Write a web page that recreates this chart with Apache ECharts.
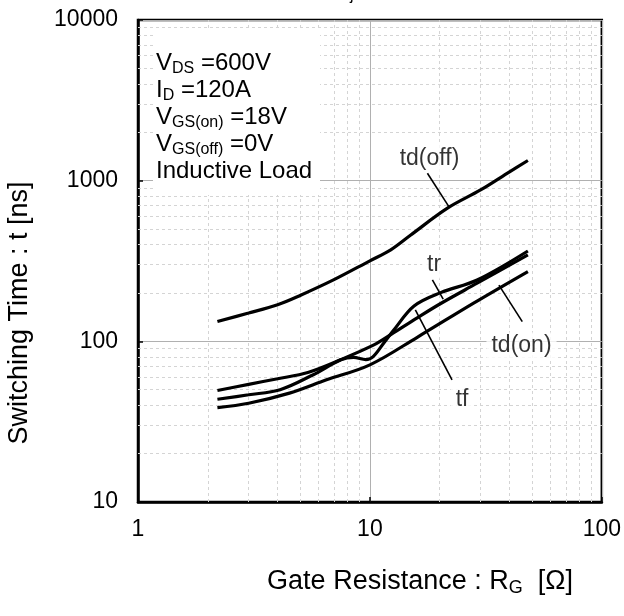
<!DOCTYPE html>
<html>
<head>
<meta charset="utf-8">
<script src="https://cdn.jsdelivr.net/npm/echarts@6/dist/echarts.min.js"></script>
<style>
html,body{margin:0;padding:0;background:#fff;}
#chart{width:624px;height:616px;}
</style>
</head>
<body>
<div id="chart"></div>
<script>
// ---------- data ----------
const xMin = 1, xMax = 100;
const yMin = 10, yMax = 10000;
const minorX = [2,3,4,5,6,7,8,9,20,30,40,50,60,70,80,90];
const minorY = [20,30,40,50,60,70,80,90,200,300,400,500,600,700,800,900,2000,3000,4000,5000,6000,7000,8000,9000];

// Rg [ohm], t [ns]
const tdOff = [[2.2,133],[3,150],[4,169],[5,193],[7,242],[10,317],[12.3,371],[15,459],[21.6,674],[30,875],[40,1135],[48,1335]];
const tr    = [[2.2,49.4],[3,54],[4,58.5],[5.4,64],[7.5,77],[10.4,95],[12.3,110],[16,140],[20.2,172],[29,230],[48,345]];
const tf    = [[2.2,43.6],[3,46.5],[4.1,50],[5.7,62],[7.5,76.7],[8.5,79.5],[9.6,77],[10.3,80],[11.5,98],[12.7,118],[15.5,166],[20.2,201],[29,241],[48,365]];
const tdOn  = [[2.2,38.7],[3,41.2],[4.5,47.6],[6.5,57.6],[10,71.4],[16,106],[28,173],[48,272]];

const labelNames = ['td(off)','tr','tf','td(on)'];
const labelPos   = [[18.07,1374],[18.9,299],[24.97,43.2],[45.05,93.6]];
const leaderTdOff = [[17.7,1112],[21.9,689]];
const leaderTr    = [[18.6,241],[20.7,183]];
const leaderTf    = [[22.6,57.5],[15.7,156.8]];
const leaderTdOn  = [[45.4,132.7],[36.0,224]];

const condLines = [
  ['V','DS',' =600V'],
  ['I','D',' =120A'],
  ['V','GS(on)',' =18V'],
  ['V','GS(off)',' =0V'],
  ['Inductive Load','','']
];

// ---------- chart ----------
const FONT = '"Liberation Sans", Arial, Helvetica, sans-serif';
const chart = echarts.init(document.getElementById('chart'), null, {renderer:'canvas'});

const richCond = {
  m: {fontSize:24, fontFamily:FONT, color:'#000', lineHeight:27, verticalAlign:'middle'},
  s: {fontSize:16, fontFamily:FONT, color:'#000', lineHeight:12, verticalAlign:'bottom'}
};
const richTitle = {
  m: {fontSize:27, fontFamily:FONT, color:'#000', lineHeight:30, verticalAlign:'middle'},
  s: {fontSize:18, fontFamily:FONT, color:'#000', lineHeight:12, verticalAlign:'bottom'}
};
const condText = condLines.map(l => '{m|' + l[0] + '}' + (l[1] ? '{s|' + l[1] + '}' : '') + (l[2] ? '{m|' + l[2] + '}' : '')).join('\n');

function curve(name, data){
  return {type:'line', name:name, data:data, smooth:0.35, symbol:'none', z:5,
    lineStyle:{color:'#000', width:3.2}, animation:false};
}
function leader(data){
  return {type:'line', data:data, symbol:'none', z:6, silent:true,
    lineStyle:{color:'#000', width:1.6}, animation:false};
}

const axisCommon = {
  type:'log', logBase:10,
  axisLine:{show:true, lineStyle:{color:'#000', width:2.5}},
  axisTick:{show:true, inside:true, length:5, lineStyle:{color:'#000', width:1.5}},
  splitLine:{show:true, lineStyle:{color:'#b0b0b0', width:1}},
  axisLabel:{fontSize:23, color:'#000', fontFamily:FONT, formatter:v => String(Math.round(v))}
};

const option = {
  animation:false,
  backgroundColor:'#fff',
  grid:{left:138, right:22, top:20, bottom:114, show:true, borderColor:'#000', borderWidth:2.5, backgroundColor:'rgba(0,0,0,0)'},
  xAxis: Object.assign({}, axisCommon, {min:xMin, max:xMax,
    axisLabel:Object.assign({}, axisCommon.axisLabel, {margin:16})}),
  yAxis: Object.assign({}, axisCommon, {min:yMin, max:yMax,
    axisLabel:Object.assign({}, axisCommon.axisLabel, {margin:20})}),
  graphic:[
    {type:'rect', left:153, top:30, z:10, shape:{width:167, height:165}, style:{fill:'#fff'}},
    {type:'text', x:156, y:50, z:11, style:{text:condText, rich:richCond, textVerticalAlign:'top', textAlign:'left'}},
    {type:'text', x:420, y:582, z:11, style:{text:'{m|Gate Resistance : R}{s|G}{m|  [Ω]}', rich:richTitle, textAlign:'center', textVerticalAlign:'middle'}},
    {type:'text', x:20, y:313, z:11, rotation:Math.PI/2, style:{text:'{m|Switching Time : t [ns]}', rich:richTitle, textAlign:'center', textVerticalAlign:'middle'}},
    {type:'text', x:336, y:-23.5, z:11, style:{text:'{m|T}{s|j}{m| = 25°C}', rich:{
      m:{fontSize:23, fontFamily:FONT, color:'#000', lineHeight:23, verticalAlign:'top'},
      s:{fontSize:16, fontFamily:FONT, color:'#000', lineHeight:16, verticalAlign:'top', padding:[11,0,0,0]}}, textAlign:'left', textVerticalAlign:'top'}}
  ],
  series:[
    {type:'line', data:[[1,10]], symbol:'none', silent:true, z:1, lineStyle:{opacity:0},
      markLine:{silent:true, symbol:['none','none'], label:{show:false}, animation:false,
        lineStyle:{color:'#d4d4d4', width:1, type:[3,3]},
        emphasis:{disabled:true},
        data: minorX.map(v => ({xAxis:v})).concat(minorY.map(v => ({yAxis:v})))}},
    curve('td(off)', tdOff),
    curve('tr', tr),
    curve('tf', tf),
    curve('td(on)', tdOn),
    leader(leaderTdOff),
    leader(leaderTr),
    leader(leaderTf),
    leader(leaderTdOn),
    {type:'scatter', symbolSize:0, z:7, silent:true, animation:false,
      data: labelPos.map((p,i) => ({value:p, name:labelNames[i]})),
      label:{show:true, position:'inside', formatter:'{b}', fontSize:23, fontFamily:FONT, color:'#000',
        backgroundColor:'#fff', padding:[2,5]}}
  ]
};
chart.setOption(option);
</script>
</body>
</html>
